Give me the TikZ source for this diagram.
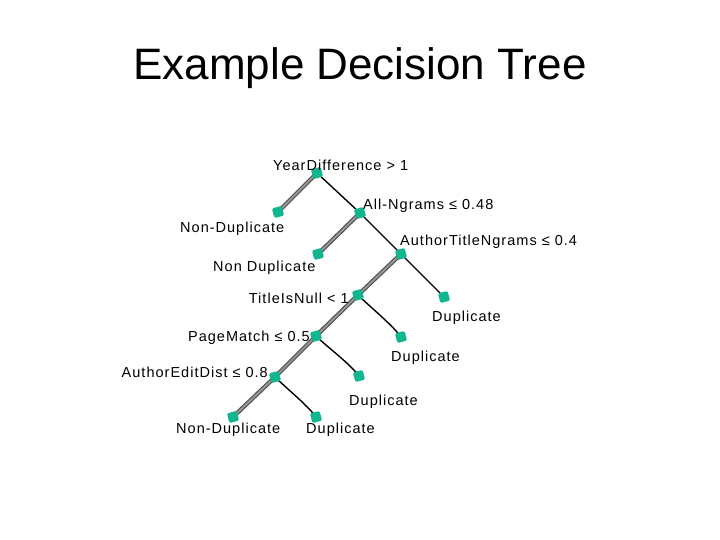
\documentclass[tikz,border=0pt]{standalone}
\usepackage{fontspec}
\setmainfont{Liberation Sans}
\newfontfamily\treefont[LetterSpace=7]{Liberation Sans}
\usepackage{tikz}
\usetikzlibrary{positioning,calc,backgrounds}
\definecolor{TreeTeal}{RGB}{18, 182, 142}
\definecolor{TreeGray}{RGB}{150, 150, 150}

\begin{document}
\begin{tikzpicture}[x=1pt, y=-1pt]
  \tikzstyle{split} = [rectangle, fill=TreeTeal, rounded corners=1.5pt, minimum size=10pt, inner sep=0pt, rotate=15]
  \tikzstyle{leaf} = [split]
  \tikzstyle{txt} = [anchor=base west, inner sep=0pt, font=\fontsize{14.5}{16}\treefont]
  \tikzstyle{yes} = [draw=black!70, line width=1.1pt, double=TreeGray, double distance=2pt]
  \tikzstyle{no} = [draw=black, line width=1.4pt]

  \useasboundingbox (0,0) rectangle (720,540);
  \node [font=\fontsize{44}{50}\selectfont] (title) at (360,68) {Example Decision Tree};

  % tests and outcomes
  \node [split] (year) at (317,173) {};
  \node [leaf] (nondupa) at (278,212) {};
  \node [split] (ngrams) at (360,213) {};
  \node [leaf] (nondupb) at (318,254) {};
  \node [split] (atngrams) at (401,254) {};
  \node [leaf] (dupa) at (444,297) {};
  \node [split] (tnull) at (358,295) {};
  \node [leaf] (dupb) at (401,337) {};
  \node [split] (pmatch) at (316,336) {};
  \node [leaf] (dupc) at (359,376) {};
  \node [split] (aedit) at (275,377) {};
  \node [leaf] (nondupc) at (233,417) {};
  \node [leaf] (dupd) at (316,417) {};

  % labels
  \node [txt] (yearlbl) at (273,171) {YearDifference > 1};
  \node [txt] (nondupalbl) at (180,233) {Non-Duplicate};
  \node [txt] (ngramslbl) at (363,210) {All-Ngrams ≤ 0.48};
  \node [txt] (nondupblbl) at (213,271) {Non Duplicate};
  \node [txt] (atngramslbl) at (400,245) {AuthorTitleNgrams ≤ 0.4};
  \node [txt] (dupalbl) at (432,321) {Duplicate};
  \node [txt, anchor=base east] (tnulllbl) at (349,303) {TitleIsNull < 1};
  \node [txt] (dupblbl) at (391,361) {Duplicate};
  \node [txt, anchor=base east] (pmatchlbl) at (310,341) {PageMatch ≤ 0.5};
  \node [txt] (dupclbl) at (349,405) {Duplicate};
  \node [txt, anchor=base east] (aeditlbl) at (268,377) {AuthorEditDist ≤ 0.8};
  \node [txt] (nondupclbl) at (176,433) {Non-Duplicate};
  \node [txt] (dupdlbl) at (306,433) {Duplicate};

  \begin{pgfonlayer}{background}
    \path [yes] (year.center) -- (nondupa.center);
    \path [yes] (ngrams.center) -- (nondupb.center);
    \path [yes] (atngrams.center) -- (tnull.center);
    \path [yes] (tnull.center) -- (pmatch.center);
    \path [yes] (pmatch.center) -- (aedit.center);
    \path [yes] (aedit.center) -- (nondupc.center);
    \path [no] (year.center) -- (ngrams.center);
    \path [no] (ngrams.center) -- (atngrams.center);
    \path [no] (atngrams.center) -- (dupa.center);
    \path [no] (tnull.center) to [out=-45, in=125, looseness=0.6] (dupb.center);
    \path [no] (pmatch.center) to [out=-45, in=125, looseness=0.6] (dupc.center);
    \path [no] (aedit.center) to [out=-45, in=125, looseness=0.6] (dupd.center);
  \end{pgfonlayer}
\end{tikzpicture}
\end{document}
